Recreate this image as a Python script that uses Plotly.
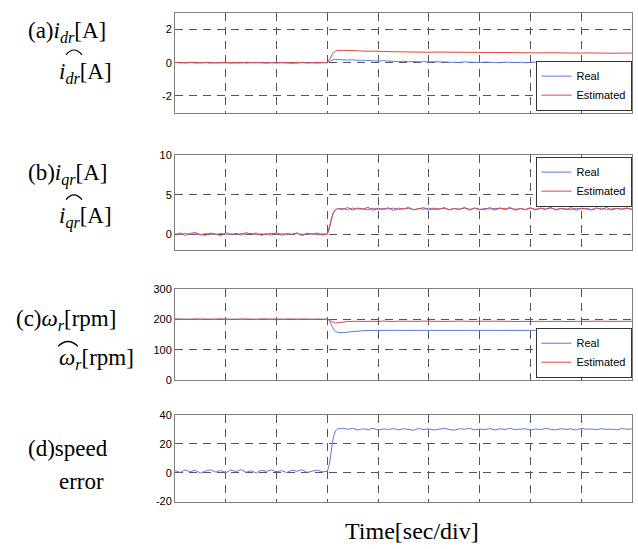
import plotly.graph_objects as go

# ---------------- data ----------------
# time grid in divisions (coarse before/after the load step, finer around it)
t_pre = [round(i * 0.1, 2) for i in range(30)]             # 0.0 .. 2.9
t_step = [3.0, 3.04, 3.08, 3.12, 3.16, 3.2]
t_post = [round(3.3 + i * 0.1, 2) for i in range(58)]      # 3.3 .. 9.0
time = t_pre + t_step + t_post

idr_real = (
    [0.02, -0.01, 0.01, 0.03, -0.02, 0.0, 0.02, -0.03, 0.01, 0.0,
     -0.01, 0.02, 0.01, -0.02, 0.03, 0.0, -0.01, 0.02, -0.02, 0.01,
     0.0, 0.02, -0.01, 0.01, -0.03, 0.02, 0.0, 0.01, -0.02, 0.01]
    + [0.0, 0.08, 0.15, 0.19, 0.2, 0.19]
    + [0.17, 0.16, 0.18, 0.14, 0.15, 0.12, 0.13, 0.10, 0.12, 0.09,
       0.10, 0.07, 0.09, 0.06, 0.08, 0.05, 0.07, 0.04, 0.06, 0.05,
       0.03, 0.06, 0.04, 0.02, 0.05, 0.03, 0.04, 0.01, 0.04, 0.02,
       0.03, 0.00, 0.04, 0.02, 0.01, 0.03, 0.00, 0.02, 0.04, 0.01,
       0.02, -0.01, 0.03, 0.01, 0.02, 0.00, 0.03, 0.01, -0.01, 0.02,
       0.00, 0.03, 0.01, 0.02, -0.01, 0.02, 0.01, 0.00]
)
idr_est = (
    [0.01, 0.02, -0.02, 0.0, 0.03, -0.01, 0.01, 0.02, -0.02, 0.0,
     0.02, -0.01, 0.0, 0.03, -0.02, 0.01, 0.02, -0.01, 0.01, 0.0,
     -0.02, 0.02, 0.01, -0.01, 0.03, 0.0, -0.02, 0.01, 0.02, 0.0]
    + [0.0, 0.2, 0.45, 0.62, 0.7, 0.74]
    + [0.75, 0.73, 0.71, 0.70, 0.70, 0.69, 0.70, 0.68, 0.69, 0.67,
       0.66, 0.66, 0.65, 0.66, 0.64, 0.65, 0.64, 0.63, 0.64, 0.64,
       0.63, 0.64, 0.62, 0.63, 0.62, 0.63, 0.62, 0.61, 0.62, 0.62,
       0.61, 0.62, 0.60, 0.61, 0.61, 0.60, 0.61, 0.60, 0.59, 0.60,
       0.60, 0.59, 0.60, 0.59, 0.58, 0.59, 0.59, 0.58, 0.59, 0.58,
       0.58, 0.59, 0.58, 0.58, 0.57, 0.58, 0.58, 0.58]
)
iqr_real = (
    [0.05, -0.08, 0.1, -0.04, 0.02, -0.1, 0.07, 0.0, -0.06, 0.09,
     -0.03, 0.04, -0.09, 0.06, -0.02, 0.08, -0.07, 0.03, -0.05, 0.1,
     -0.01, 0.05, -0.08, 0.02, 0.07, -0.04, 0.0, 0.06, -0.09, 0.03]
    + [0.0, 0.9, 2.1, 2.8, 3.1, 3.2]
    + [3.25, 3.12, 3.3, 3.18, 3.22, 3.1, 3.28, 3.15, 3.24, 3.19,
       3.3, 3.13, 3.21, 3.26, 3.11, 3.23, 3.17, 3.29, 3.14, 3.2,
       3.27, 3.12, 3.22, 3.18, 3.3, 3.16, 3.24, 3.11, 3.26, 3.19,
       3.21, 3.29, 3.13, 3.25, 3.17, 3.22, 3.1, 3.28, 3.16, 3.23,
       3.19, 3.3, 3.14, 3.24, 3.2, 3.12, 3.27, 3.18, 3.25, 3.15,
       3.22, 3.28, 3.13, 3.2, 3.26, 3.17, 3.24, 3.19]
)
iqr_est = (
    [-0.1, 0.15, -0.18, 0.08, 0.2, -0.05, -0.15, 0.12, 0.02, -0.2,
     0.17, -0.08, 0.1, -0.12, 0.19, -0.02, 0.14, -0.17, 0.06, -0.1,
     0.18, -0.14, 0.09, -0.06, 0.16, -0.19, 0.11, -0.03, 0.15, -0.11]
    + [0.0, 0.7, 1.9, 2.7, 3.05, 3.25]
    + [3.1, 3.38, 3.05, 3.32, 3.15, 3.4, 3.02, 3.28, 3.12, 3.35,
       3.0, 3.3, 3.18, 3.4, 3.08, 3.25, 3.36, 3.04, 3.3, 3.14,
       3.38, 3.06, 3.27, 3.12, 3.4, 3.03, 3.33, 3.16, 3.1, 3.37,
       3.05, 3.3, 3.2, 3.39, 3.01, 3.26, 3.13, 3.35, 3.08, 3.32,
       3.15, 3.4, 3.04, 3.28, 3.1, 3.36, 3.02, 3.3, 3.19, 3.06,
       3.34, 3.12, 3.38, 3.05, 3.27, 3.16, 3.33, 3.1]
)
wr_real = (
    [200.3, 199.8, 200.1, 200.4, 199.7, 200.0, 200.2, 199.9, 200.3, 199.8,
     200.1, 200.0, 199.7, 200.4, 200.0, 199.9, 200.2, 200.1, 199.8, 200.3,
     199.9, 200.0, 200.2, 199.8, 200.1, 200.3, 199.9, 200.0, 200.2, 199.8]
    + [200.0, 196, 182, 168, 160, 157]
    + [156, 158, 160, 161.5, 162.5, 163, 163.5, 163.4, 163.6, 163.5,
       163.3, 163.7, 163.2, 163.8, 163.4, 163.5, 163.6, 163.4, 163.5, 163.5,
       163.6, 163.4, 163.5, 163.5, 163.6, 163.4, 163.5, 163.5, 163.6, 163.4,
       163.5, 163.5, 163.6, 163.4, 163.5, 163.5, 163.4, 163.6, 163.5, 163.5,
       163.5, 163.4, 163.6, 163.5, 163.5, 163.4, 163.6, 163.5, 163.5, 163.4,
       163.5, 163.6, 163.5, 163.5, 163.4, 163.5, 163.6, 163.5]
)
wr_est = (
    [200.5, 199.6, 200.2, 199.4, 200.8, 199.9, 200.3, 199.5, 200.6, 200.0,
     199.7, 200.4, 199.5, 200.7, 199.8, 200.2, 199.4, 200.6, 200.0, 199.7,
     200.5, 199.6, 200.3, 199.9, 200.7, 199.5, 200.1, 199.8, 200.4, 199.7]
    + [200, 198, 193, 189, 187.5, 188.5]
    + [191, 192.5, 193.2, 192.6, 193.8, 192.9, 193.5, 192.4, 193.9, 193.0,
       192.5, 193.7, 193.1, 192.3, 193.6, 193.0, 193.9, 192.6, 193.3, 192.8,
       193.7, 192.5, 193.2, 193.8, 192.7, 193.4, 192.9, 193.6, 192.4, 193.3,
       193.8, 192.8, 193.5, 193.0, 192.5, 193.7, 193.1, 192.6, 193.9, 193.2,
       192.7, 193.6, 193.0, 193.4, 192.5, 193.8, 193.1, 192.9, 193.6, 193.2,
       192.8, 193.7, 193.0, 193.4, 192.6, 193.5, 193.1, 193.3]
)
speed_err = (
    [1.5, 0.3, 2.0, 0.8, 1.8, -0.2, 1.2, 2.1, 0.5, 1.6,
     0.1, 1.9, 0.9, 2.2, 0.4, 1.4, -0.1, 1.7, 1.0, 2.0,
     0.6, 1.5, 0.2, 1.8, 1.1, 2.1, 0.3, 1.3, 1.9, 0.7]
    + [1.0, 6, 17, 25, 29, 30.5]
    + [31, 30.2, 30.8, 29.7, 30.5, 30.0, 30.9, 29.6, 30.4, 30.1,
       30.7, 29.8, 30.6, 30.2, 29.5, 30.8, 30.0, 30.5, 29.7, 30.3,
       30.9, 30.1, 29.6, 30.6, 30.2, 30.8, 29.8, 30.4, 30.0, 30.7,
       29.7, 30.5, 30.1, 30.9, 29.9, 30.3, 30.6, 29.6, 30.4, 30.0,
       30.8, 30.2, 29.8, 30.6, 30.1, 30.5, 29.7, 30.9, 30.2, 30.4,
       29.9, 30.6, 30.1, 30.3, 29.8, 30.7, 30.2, 30.5]
)

y_ranges = [[-3, 3], [-2, 10], [0, 300], [-20, 40]]
y_ticks = [[-2, 0, 2], [0, 5, 10], [0, 100, 200, 300], [-20, 0, 20, 40]]
series_names = ["Real", "Estimated"]

# ---------------- styling ----------------
W, H = 638, 549
BLUE = "#5f78e2"
RED = "#e5443f"
TICKFONT = dict(family="Liberation Sans Narrow, Arial Narrow, Arial", size=11, color="black")
SERIF = "Liberation Serif, Times New Roman, serif"

def px_x(x):
    return x / W

def px_y(y):
    return 1 - y / H

x_dom = [px_x(175), px_x(632)]
y_doms = [
    [px_y(109), px_y(7)],
    [px_y(249.3), px_y(152.7)],
    [px_y(382.7), px_y(289)],
    [px_y(506.7), px_y(418.3)],
]

fig = go.Figure()

panels = [
    (idr_real, idr_est, "legend"),
    (iqr_real, iqr_est, "legend2"),
    (wr_real, wr_est, "legend3"),
]
for k, (yr, ye, lg) in enumerate(panels):
    ax = "" if k == 0 else str(k + 1)
    fig.add_trace(go.Scatter(x=time, y=yr, mode="lines", name=series_names[0],
                             line=dict(color=BLUE, width=1), xaxis="x" + ax, yaxis="y" + ax,
                             legend=lg))
    fig.add_trace(go.Scatter(x=time, y=ye, mode="lines", name=series_names[1],
                             line=dict(color=RED, width=1), xaxis="x" + ax, yaxis="y" + ax,
                             legend=lg))
fig.add_trace(go.Scatter(x=time, y=speed_err, mode="lines", name="speed error",
                         line=dict(color=BLUE, width=1), xaxis="x4", yaxis="y4",
                         showlegend=False))

layout = dict(
    width=W, height=H, autosize=False,
    margin=dict(l=0, r=0, t=0, b=0),
    paper_bgcolor="white", plot_bgcolor="white",
    showlegend=True,
)
for k in range(4):
    ax = "" if k == 0 else str(k + 1)
    layout["xaxis" + ax] = dict(
        domain=x_dom, range=[0, 9], anchor="y" + ax, dtick=1, tick0=0,
        showticklabels=False, ticks="", showgrid=True, gridcolor="#555555",
        griddash="8px,6px", gridwidth=1, zeroline=False,
        showline=True, linecolor="#808080", linewidth=1, mirror=True,
    )
    layout["yaxis" + ax] = dict(
        domain=y_doms[k], range=y_ranges[k], anchor="x" + ax,
        tickvals=y_ticks[k], ticktext=[str(v) for v in y_ticks[k]], ticks="",
        tickfont=TICKFONT, showgrid=True, gridcolor="#555555",
        griddash="8px,6px", gridwidth=1, zeroline=False,
        showline=True, linecolor="#808080", linewidth=1, mirror=True,
    )

leg_common = dict(
    xanchor="right", x=px_x(631.5), bgcolor="white", bordercolor="#333333",
    borderwidth=1, font=TICKFONT, itemwidth=30, tracegroupgap=0,
)
layout["legend"] = dict(leg_common, y=px_y(107), yanchor="bottom")
layout["legend2"] = dict(leg_common, y=px_y(154), yanchor="top")
layout["legend3"] = dict(leg_common, y=px_y(380), yanchor="bottom")

fig.update_layout(**layout)

# ---------------- left-side labels ----------------
labels = [
    ("(a)<i>i</i><sub><i>dr</i></sub>[A]", 26, 27),
    ("<i>i</i><sub><i>dr</i></sub>[A]", 57, 68),
    ("(b)<i>i</i><sub><i>qr</i></sub>[A]", 26, 172),
    ("<i>i</i><sub><i>qr</i></sub>[A]", 57, 216),
    ("(c)<i>ω</i><sub><i>r</i></sub>[rpm]", 14, 321),
    ("<i>ω</i><sub><i>r</i></sub>[rpm]", 57, 361),
    ("(d)speed", 26, 452),
    ("error", 57, 486),
]
for txt, x, y in labels:
    fig.add_annotation(text=txt, x=px_x(x), y=px_y(y), xref="paper", yref="paper",
                       xanchor="left", yanchor="middle", showarrow=False,
                       font=dict(family=SERIF, size=23, color="black"))

fig.add_annotation(text="Time[sec/div]", x=px_x(412), y=px_y(537), xref="paper", yref="paper",
                   xanchor="center", yanchor="middle", showarrow=False,
                   font=dict(family=SERIF, size=24, color="black"))

# hats over the estimated quantities
hats = [(66, 82, 50, 45), (66, 82, 198, 193), (58, 78, 348, 343)]
for x0, x1, yb, yp in hats:
    xm = (x0 + x1) / 2
    yc = yb + 2 * (yp - yb)
    path = (f"M {px_x(x0)},{px_y(yb)} Q {px_x(xm)},{px_y(yc)} {px_x(x1)},{px_y(yb)}")
    fig.add_shape(type="path", path=path, xref="paper", yref="paper",
                  line=dict(color="black", width=1.2))

fig.write_html("out.html")
